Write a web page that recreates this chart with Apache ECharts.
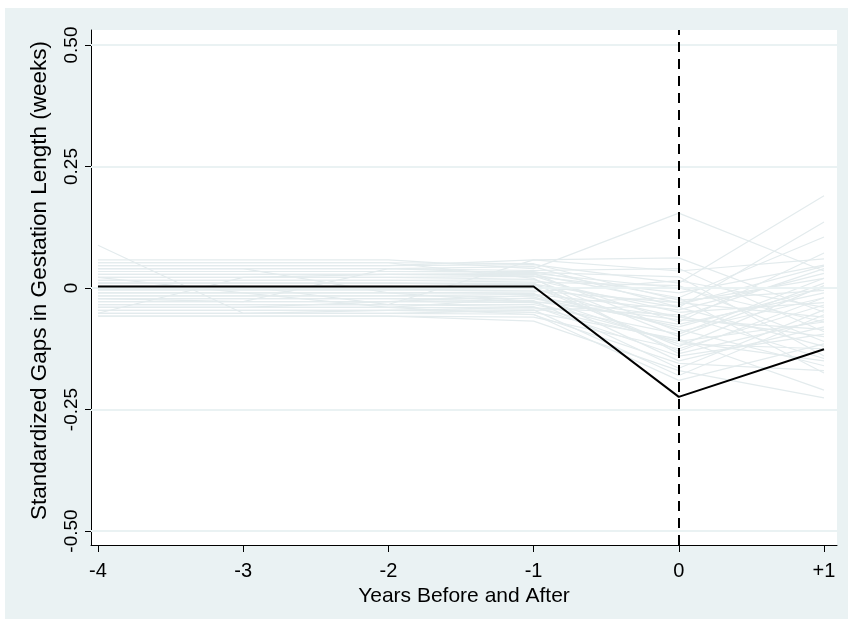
<!DOCTYPE html>
<html>
<head>
<meta charset="utf-8">
<script src="https://cdn.jsdelivr.net/npm/echarts@6/dist/echarts.min.js"></script>
<style>
  html, body { margin: 0; padding: 0; background: #ffffff; }
  #chart { width: 848px; height: 623px; }
</style>
</head>
<body>
<div id="chart"></div>
<script>
// Event time (years relative to the change) and their tick labels
const years = [-4, -3, -2, -1, 0, 1];
const yearLabels = ['-4', '-3', '-2', '-1', '0', '+1'];

// Standardized gap for the treated unit
const treated = [0.003, 0.003, 0.003, 0.003, -0.224, -0.126];

// Placebo gaps, one row per control unit (values at -4 .. +1)
const placebo = [
  [0.088, -0.052, -0.046, -0.040, -0.110, -0.070],
  [-0.052, 0.022, 0.028, 0.028, -0.030, 0.020],
  [0.058, 0.058, 0.058, 0.040, 0.154, 0.035],
  [0.046, 0.046, 0.046, 0.058, 0.062, -0.050],
  [0.046, 0.046, 0.046, 0.048, 0.010, 0.190],
  [0.040, 0.040, 0.040, 0.044, -0.040, 0.136],
  [0.040, 0.040, 0.040, 0.036, 0.040, -0.090],
  [0.034, 0.034, 0.034, 0.034, -0.020, 0.105],
  [0.034, 0.034, 0.034, 0.032, 0.023, -0.140],
  [0.028, 0.028, 0.028, 0.025, -0.070, 0.072],
  [0.022, 0.022, 0.022, 0.024, -0.010, 0.047],
  [0.022, 0.022, 0.022, 0.018, -0.100, 0.010],
  [0.016, 0.016, 0.016, 0.017, -0.050, -0.030],
  [0.016, 0.016, 0.016, 0.012, 0.005, -0.110],
  [0.010, 0.010, 0.010, 0.010, -0.130, -0.020],
  [0.010, 0.010, 0.010, 0.006, -0.060, 0.040],
  [-0.004, -0.004, -0.004, -0.001, -0.085, -0.160],
  [-0.004, -0.004, -0.004, -0.006, -0.030, -0.060],
  [-0.010, -0.010, -0.010, -0.011, -0.150, -0.080],
  [-0.016, -0.016, -0.016, -0.013, -0.045, 0.030],
  [-0.016, -0.016, -0.016, -0.018, -0.115, -0.125],
  [-0.022, -0.022, -0.022, -0.022, -0.075, -0.010],
  [-0.028, -0.028, -0.028, -0.026, -0.165, -0.045],
  [-0.028, -0.028, -0.028, -0.030, -0.020, -0.175],
  [-0.034, -0.034, -0.034, -0.034, -0.095, 0.020],
  [-0.034, -0.034, -0.034, -0.038, -0.140, -0.095],
  [-0.040, -0.040, -0.040, -0.041, -0.055, -0.145],
  [-0.046, -0.046, -0.046, -0.045, -0.180, -0.055],
  [-0.046, -0.046, -0.046, -0.050, -0.105, -0.210],
  [-0.052, -0.052, -0.052, -0.054, -0.190, -0.115],
  [-0.058, -0.058, -0.058, -0.060, -0.125, -0.035],
  [-0.058, -0.058, -0.058, -0.068, -0.170, -0.226],
  [0.022, -0.010, -0.040, -0.020, -0.060, -0.100],
  [-0.022, -0.028, 0.040, 0.030, 0.000, -0.070],
  [0.004, 0.004, -0.034, 0.058, 0.035, 0.060],
  [0.040, 0.040, -0.010, -0.030, -0.110, -0.150],
  [-0.040, -0.040, -0.028, -0.015, -0.080, 0.000],
  [0.052, 0.052, 0.052, 0.020, -0.135, -0.065],
  [-0.010, -0.010, -0.010, -0.008, 0.015, -0.040],
  [0.028, 0.028, 0.028, 0.030, -0.090, -0.020],
  [-0.052, -0.052, -0.052, -0.046, -0.035, 0.045],
  [0.004, 0.004, 0.004, 0.002, -0.120, 0.005],
  [-0.022, -0.022, -0.022, -0.028, -0.065, -0.085],
  [0.052, 0.052, 0.052, 0.050, -0.025, -0.005],
  [-0.040, -0.040, -0.040, -0.055, -0.155, -0.170],
  [0.010, 0.010, 0.010, 0.008, -0.040, -0.120]
];

// Y axis ticks and their printed labels
const yTicks = [-0.5, -0.25, 0, 0.25, 0.5];
const yTickLabels = ['-0.50', '-0.25', '0', '0.25', '0.50'];

const FONT = '"Liberation Sans", Arial, Helvetica, sans-serif';
const PANEL = '#eaf2f3';
const GRAY_LINE = '#e3ebed';

const toPoints = row => years.map((x, i) => [x, row[i]]);

const series = [];

// Horizontal reference lines at each y tick, and the dashed line at year 0
series.push({
  type: 'line',
  data: [],
  z: 1,
  silent: true,
  markLine: {
    silent: true,
    symbol: 'none',
    label: { show: false },
    lineStyle: { color: PANEL, width: 2, type: 'solid' },
    data: yTicks.map(v => ({ yAxis: v }))
  }
});
series.push({
  type: 'line',
  data: [],
  z: 2,
  silent: true,
  markLine: {
    silent: true,
    symbol: 'none',
    label: { show: false },
    lineStyle: { color: '#000000', width: 2, type: [10, 7] },
    data: [{ xAxis: 0 }]
  }
});

placebo.forEach(row => {
  series.push({
    type: 'line',
    data: toPoints(row),
    showSymbol: false,
    silent: true,
    z: 3,
    lineStyle: { color: GRAY_LINE, width: 1.2 }
  });
});

series.push({
  type: 'line',
  data: toPoints(treated),
  showSymbol: false,
  silent: true,
  z: 5,
  lineStyle: { color: '#000000', width: 2 }
});

const chart = echarts.init(document.getElementById('chart'), null, { renderer: 'canvas' });
chart.setOption({
  animation: false,
  backgroundColor: '#ffffff',
  graphic: [{
    type: 'rect',
    z: -100,
    silent: true,
    shape: { x: 5, y: 8, width: 843, height: 611 },
    style: { fill: PANEL }
  }],
  grid: {
    left: 91, right: 11, top: 30, bottom: 78,
    show: true,
    backgroundColor: '#ffffff',
    borderWidth: 0
  },
  xAxis: {
    type: 'value',
    min: -4.048,
    max: 1.0895,
    name: 'Years Before and After',
    nameLocation: 'middle',
    nameGap: 35,
    nameTextStyle: { fontFamily: FONT, fontSize: 21, color: '#000' },
    axisLine: { show: true, onZero: false, lineStyle: { color: '#000', width: 1 } },
    axisTick: { show: true, length: 7, customValues: years, lineStyle: { color: '#000' } },
    axisLabel: {
      customValues: years,
      margin: 16,
      fontFamily: FONT, fontSize: 20, color: '#000',
      formatter: v => yearLabels[years.indexOf(v)]
    },
    splitLine: { show: false }
  },
  yAxis: {
    type: 'value',
    min: -0.5288,
    max: 0.5309,
    name: 'Standardized Gaps in Gestation Length (weeks)',
    nameLocation: 'middle',
    nameGap: 40,
    nameTextStyle: { fontFamily: FONT, fontSize: 22.5, color: '#000', padding: [0, 0, 0, 14] },
    axisLine: { show: true, onZero: false, lineStyle: { color: '#000', width: 1 } },
    axisTick: { show: true, length: 6, customValues: yTicks, lineStyle: { color: '#000' } },
    axisLabel: {
      customValues: yTicks,
      rotate: 90,
      margin: 10,
      fontFamily: FONT, fontSize: 19, color: '#000',
      formatter: v => yTickLabels[yTicks.indexOf(v)]
    },
    splitLine: { show: false }
  },
  series: series
});
</script>
</body>
</html>
